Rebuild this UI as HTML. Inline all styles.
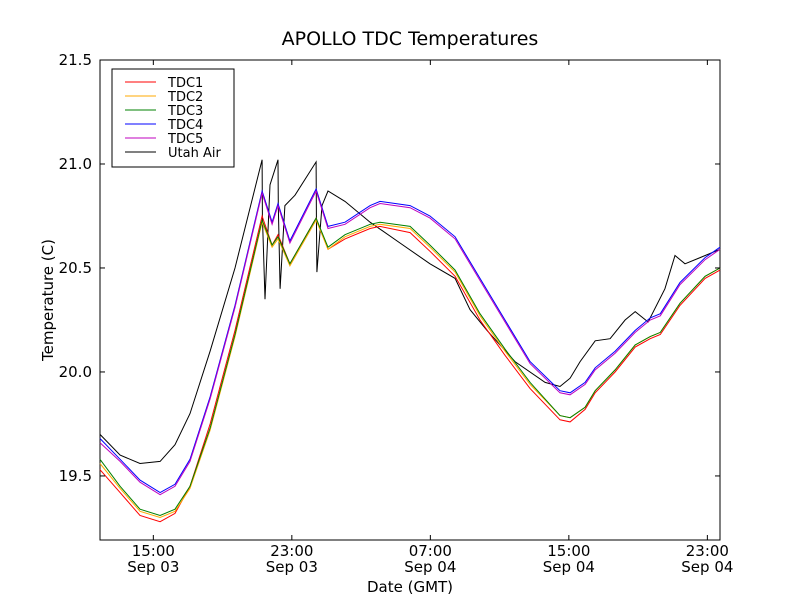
<!DOCTYPE html>
<html><head><meta charset="utf-8"><style>
body{margin:0;background:#fff;font-family:"Liberation Sans","DejaVu Sans",sans-serif}
svg text{font-family:"DejaVu Sans","Liberation Sans",sans-serif}
</style></head><body>
<svg id="c" width="800" height="600" xmlns="http://www.w3.org/2000/svg">
<rect width="800" height="600" fill="#fff"/>
<text x="410" y="45" font-size="19" text-anchor="middle">APOLLO TDC Temperatures</text>
<g id="plot"></g>
</svg>
<script>
const xTicks=[15,23,31,39,47];
const xTickTime=["15:00","23:00","07:00","15:00","23:00"];
const xTickDay=["Sep 03","Sep 03","Sep 04","Sep 04","Sep 04"];
const yTicks=[19.5,20.0,20.5,21.0,21.5];
const seriesNames=["TDC1","TDC2","TDC3","TDC4","TDC5","Utah Air"];
const tTdc=[11.92,13.08,14.23,15.39,16.25,17.12,18.28,19.72,21.28,21.86,22.20,22.89,24.40,25.09,26.07,27.52,28.09,29.83,30.98,32.43,33.87,35.31,36.76,38.49,39.07,39.94,40.52,41.67,42.83,43.70,44.28,45.42,46.87,47.73];
const tdc1=[19.53,19.42,19.31,19.28,19.32,19.45,19.75,20.20,20.75,20.61,20.66,20.52,20.74,20.59,20.64,20.69,20.70,20.67,20.58,20.46,20.25,20.08,19.92,19.77,19.76,19.82,19.90,20.00,20.12,20.16,20.18,20.32,20.45,20.49];
const tdc2=[19.56,19.44,19.33,19.30,19.33,19.44,19.72,20.17,20.72,20.60,20.64,20.51,20.73,20.59,20.65,20.70,20.71,20.69,20.60,20.48,20.27,20.10,19.94,19.79,19.78,19.83,19.91,20.01,20.13,20.17,20.19,20.33,20.46,20.50];
const tdc3=[19.58,19.45,19.34,19.31,19.34,19.45,19.73,20.18,20.73,20.61,20.65,20.52,20.74,20.60,20.66,20.71,20.72,20.70,20.61,20.49,20.28,20.11,19.95,19.79,19.78,19.83,19.91,20.01,20.13,20.17,20.19,20.33,20.46,20.50];
const tdc4=[19.68,19.58,19.48,19.42,19.46,19.58,19.88,20.32,20.87,20.72,20.81,20.63,20.88,20.70,20.72,20.80,20.82,20.80,20.75,20.65,20.45,20.25,20.05,19.91,19.90,19.95,20.02,20.10,20.20,20.26,20.28,20.43,20.55,20.60];
const tdc5=[19.66,19.57,19.47,19.41,19.45,19.57,19.87,20.31,20.86,20.71,20.80,20.62,20.87,20.69,20.71,20.79,20.81,20.79,20.74,20.64,20.44,20.24,20.04,19.90,19.89,19.94,20.01,20.09,20.19,20.25,20.27,20.42,20.54,20.59];
const tAir=[11.92,13.08,14.23,15.39,16.25,17.12,18.28,19.72,21.28,21.30,21.45,21.74,22.20,22.22,22.32,22.60,23.18,24.40,24.42,24.45,24.74,25.09,26.07,27.52,29.25,30.98,32.43,33.29,34.27,35.89,37.63,38.49,39.07,39.65,40.52,41.38,42.25,42.83,43.58,44.55,45.13,45.71,46.58,47.73];
const air=[19.70,19.60,19.56,19.57,19.65,19.80,20.10,20.50,21.02,20.75,20.35,20.90,21.02,20.80,20.40,20.80,20.85,21.01,20.75,20.48,20.80,20.87,20.82,20.72,20.62,20.52,20.45,20.30,20.20,20.05,19.95,19.93,19.97,20.05,20.15,20.16,20.25,20.29,20.24,20.40,20.56,20.52,20.55,20.59];
const colors=["#ff0000","#ffaa00","#008000","#0000ff","#bf00bf","#000000"];
const L=100,R=720,T=60,B=540,tMin=11.92,tMax=47.73,vMin=19.192,vMax=21.5;
const xs=t=>L+(t-tMin)/(tMax-tMin)*(R-L);
const ys=v=>T+(vMax-v)/(vMax-vMin)*(B-T);
const NS="http://www.w3.org/2000/svg";
const g=document.getElementById('plot');
function mk(tag,attrs){const e=document.createElementNS(NS,tag);for(const k in attrs)e.setAttribute(k,attrs[k]);g.appendChild(e);return e;}
const frame=mk('rect',{x:L,y:T,width:R-L,height:B-T,fill:'none',stroke:'#000','stroke-width':1});


const data=[[tTdc,tdc1],[tTdc,tdc2],[tTdc,tdc3],[tTdc,tdc4],[tTdc,tdc5],[tAir,air]];
const order=[5,0,1,2,3,4];
order.forEach(i=>{const [tt,vv]=data[i];
const p=mk('polyline',{points:tt.map((t,j)=>xs(t).toFixed(1)+','+ys(vv[j]).toFixed(1)).join(' '),fill:'none',stroke:colors[i],'stroke-width':1});

});
xTicks.forEach((t,i)=>{const x=xs(t);
mk('line',{x1:x,y1:B,x2:x,y2:B-5,stroke:'#000'});mk('line',{x1:x,y1:T,x2:x,y2:T+5,stroke:'#000'});
const a=mk('text',{x:x,y:556,'font-size':15,'text-anchor':'middle'});a.textContent=xTickTime[i];


const b=mk('text',{x:x,y:572,'font-size':15,'text-anchor':'middle'});b.textContent=xTickDay[i];

});
yTicks.forEach(v=>{const y=ys(v);
mk('line',{x1:L,y1:y,x2:L+5,y2:y,stroke:'#000'});mk('line',{x1:R,y1:y,x2:R-5,y2:y,stroke:'#000'});
const a=mk('text',{x:92,y:y+5,'font-size':15,'text-anchor':'end'});a.textContent=v.toFixed(1);

});
const xl=mk('text',{x:410,y:592,'font-size':15,'text-anchor':'middle'});xl.textContent='Date (GMT)';


const yl=mk('text',{x:0,y:0,'font-size':15,'text-anchor':'middle',transform:'translate(53,300) rotate(-90)'});yl.textContent='Temperature (C)';


const lg=mk('rect',{x:112,y:69,width:122,height:98,fill:'#fff',stroke:'#000'});


seriesNames.forEach((n,i)=>{const y=82+i*14;
mk('line',{x1:125,y1:y,x2:156,y2:y,stroke:colors[i]});
const t=mk('text',{x:168,y:y+5,'font-size':13});t.textContent=n;

});
</script>
</body></html>
